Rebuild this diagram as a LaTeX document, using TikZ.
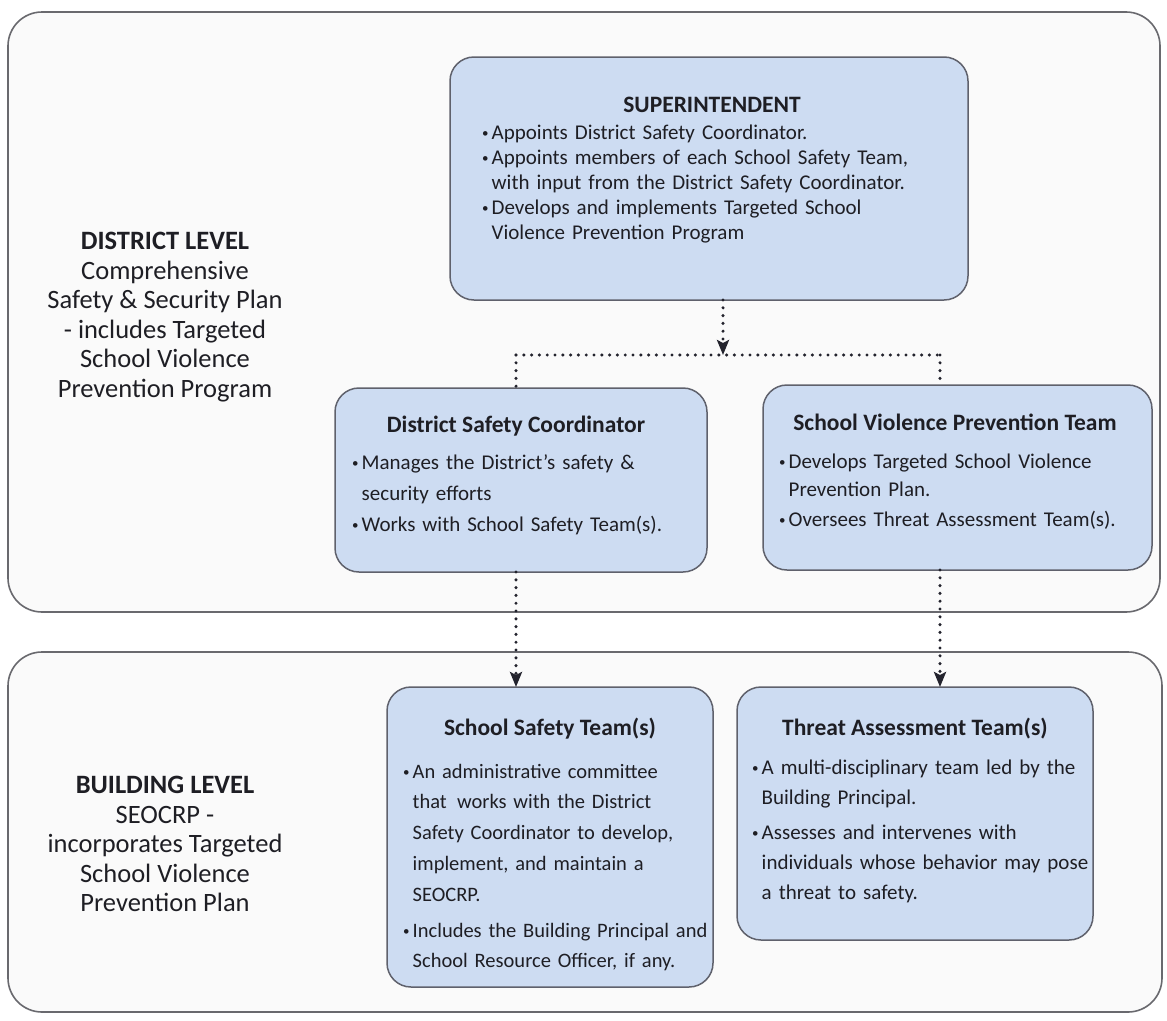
\documentclass[tikz,border=0pt]{standalone}
\usepackage{fontspec}
\setmainfont{Carlito}
\usetikzlibrary{arrows.meta}
\definecolor{boxblue}{RGB}{205,220,242}
\definecolor{boxline}{RGB}{95,97,108}
\definecolor{levline}{RGB}{105,105,110}
\definecolor{levfill}{RGB}{250,250,250}
\definecolor{ink}{RGB}{30,30,36}
\definecolor{dotc}{RGB}{35,35,45}
\newlength\bw \setlength\bw{9.5pt}
\newcommand\bitem[1]{\hangindent=\bw\hangafter=1\noindent\makebox[\bw][l]{\raisebox{0.12ex}{\fontsize{13}{13}\selectfont •}}#1\par}
\tikzset{
  levelbox/.style={draw=levline, line width=1.6pt, fill=levfill, rounded corners=34pt, inner sep=0pt, outer sep=0pt},
  bluebox/.style={draw=boxline, line width=1.5pt, fill=boxblue, rounded corners=24pt, inner sep=0pt, outer sep=0pt},
  boxtitle/.style={anchor=base, inner sep=0pt, text=ink, font=\fontsize{23.5}{26}\selectfont\bfseries},
  bodytxt/.style={anchor=base west, inner sep=0pt, text=ink, align=left, text width=#1},
  leveltxt/.style={anchor=center, inner sep=0pt, text=ink, align=center, font=\fontsize{26.5}{29.5}\selectfont},
  dotline/.style={draw=dotc, line width=3.4pt, line cap=round, dash pattern=on 0pt off 7.8pt},
  tip/.style={-{Stealth[length=15pt,width=12pt,inset=3pt]}}
}
\begin{document}
\begin{tikzpicture}[x=1pt,y=-1pt]
\useasboundingbox (0,0) rectangle (1167,1020);
\fill[white] (0,0) rectangle (1167,1020);

% level boxes
\node[levelbox, minimum width=1152pt, minimum height=600pt] (dist) at (584,312) {};
\node[levelbox, minimum width=1154pt, minimum height=360pt] (bldg) at (585,832) {};

% blue boxes
\node[bluebox, minimum width=518pt, minimum height=243pt] (sup) at (709,178.5) {};
\node[bluebox, minimum width=372pt, minimum height=184pt] (dsc) at (521,480) {};
\node[bluebox, minimum width=389pt, minimum height=185pt] (svpt) at (957.5,477.5) {};
\node[bluebox, minimum width=326pt, minimum height=300pt] (sst) at (550,837) {};
\node[bluebox, minimum width=356pt, minimum height=253pt] (tat) at (915,813.5) {};

% level labels
\node[leveltxt] (distlab) at (165,317) {\textbf{DISTRICT LEVEL}\\Comprehensive\\Safety \& Security Plan\\- includes Targeted\\School Violence\\Prevention Program};
\node[leveltxt] (bldglab) at (165,844) {\textbf{BUILDING LEVEL}\\SEOCRP -\\incorporates Targeted\\School Violence\\Prevention Plan};

% superintendent
\node[boxtitle] (suptitle) at (712,112) {SUPERINTENDENT};
\node[bodytxt=480pt, font=\fontsize{21}{25}\selectfont] (suptext) at (482,139) {%
\bitem{Appoints District Safety Coordinator.}%
\bitem{Appoints members of each School Safety Team,\newline with input from the District Safety Coordinator.}%
\bitem{Develops and implements Targeted School\newline Violence Prevention Program}};

% district safety coordinator
\node[boxtitle] (dsctitle) at (516,432) {District Safety Coordinator};
\node[bodytxt=360pt, font=\fontsize{21}{31}\selectfont] (dsctext) at (352,469) {%
\bitem{Manages the District's safety \&\newline security efforts}%
\bitem{Works with School Safety Team(s).}};

% school violence prevention team
\node[boxtitle] (svpttitle) at (955,430) {School Violence Prevention Team};
\node[bodytxt=380pt, font=\fontsize{21}{28}\selectfont] (svpttext) at (779,468) {%
\bitem{Develops Targeted School Violence\newline Prevention Plan.}\vspace{2pt}%
\bitem{Oversees Threat Assessment Team(s).}};

% school safety team
\node[boxtitle] (ssttitle) at (550,735) {School Safety Team(s)};
\node[bodytxt=330pt, font=\fontsize{20.5}{30.8}\selectfont] (ssttext) at (403,778) {%
\bitem{An administrative committee\newline that\, works with the District\newline Safety Coordinator to develop,\newline implement, and maintain a\newline SEOCRP.}\vspace{5pt}%
\bitem{Includes the Building Principal and\newline School Resource Officer, if any.}};

% threat assessment team
\node[boxtitle] (tattitle) at (915,735) {Threat Assessment Team(s)};
\node[bodytxt=360pt, font=\fontsize{21}{30}\selectfont] (tattext) at (752,774) {%
\bitem{A multi-disciplinary team led by the\newline Building Principal.}\vspace{5pt}%
\bitem{Assesses and intervenes with\newline individuals whose behavior may pose\newline a threat to safety.}};

% connectors
\coordinate (jn) at (723,355);
\coordinate (hl) at (516,355);
\coordinate (hr) at (940,355);
\draw[dotline, tip] (sup.south -| jn) -- (jn);
\draw[dotline] (hl) -- (hr);
\draw[dotline] (hl) -- (hl |- dsc.north);
\draw[dotline] (hr) -- (hr |- svpt.north);
\draw[dotline, tip] (hl |- dsc.south) -- (hl |- sst.north);
\draw[dotline, tip] (hr |- svpt.south) -- (hr |- tat.north);
\end{tikzpicture}
\end{document}
